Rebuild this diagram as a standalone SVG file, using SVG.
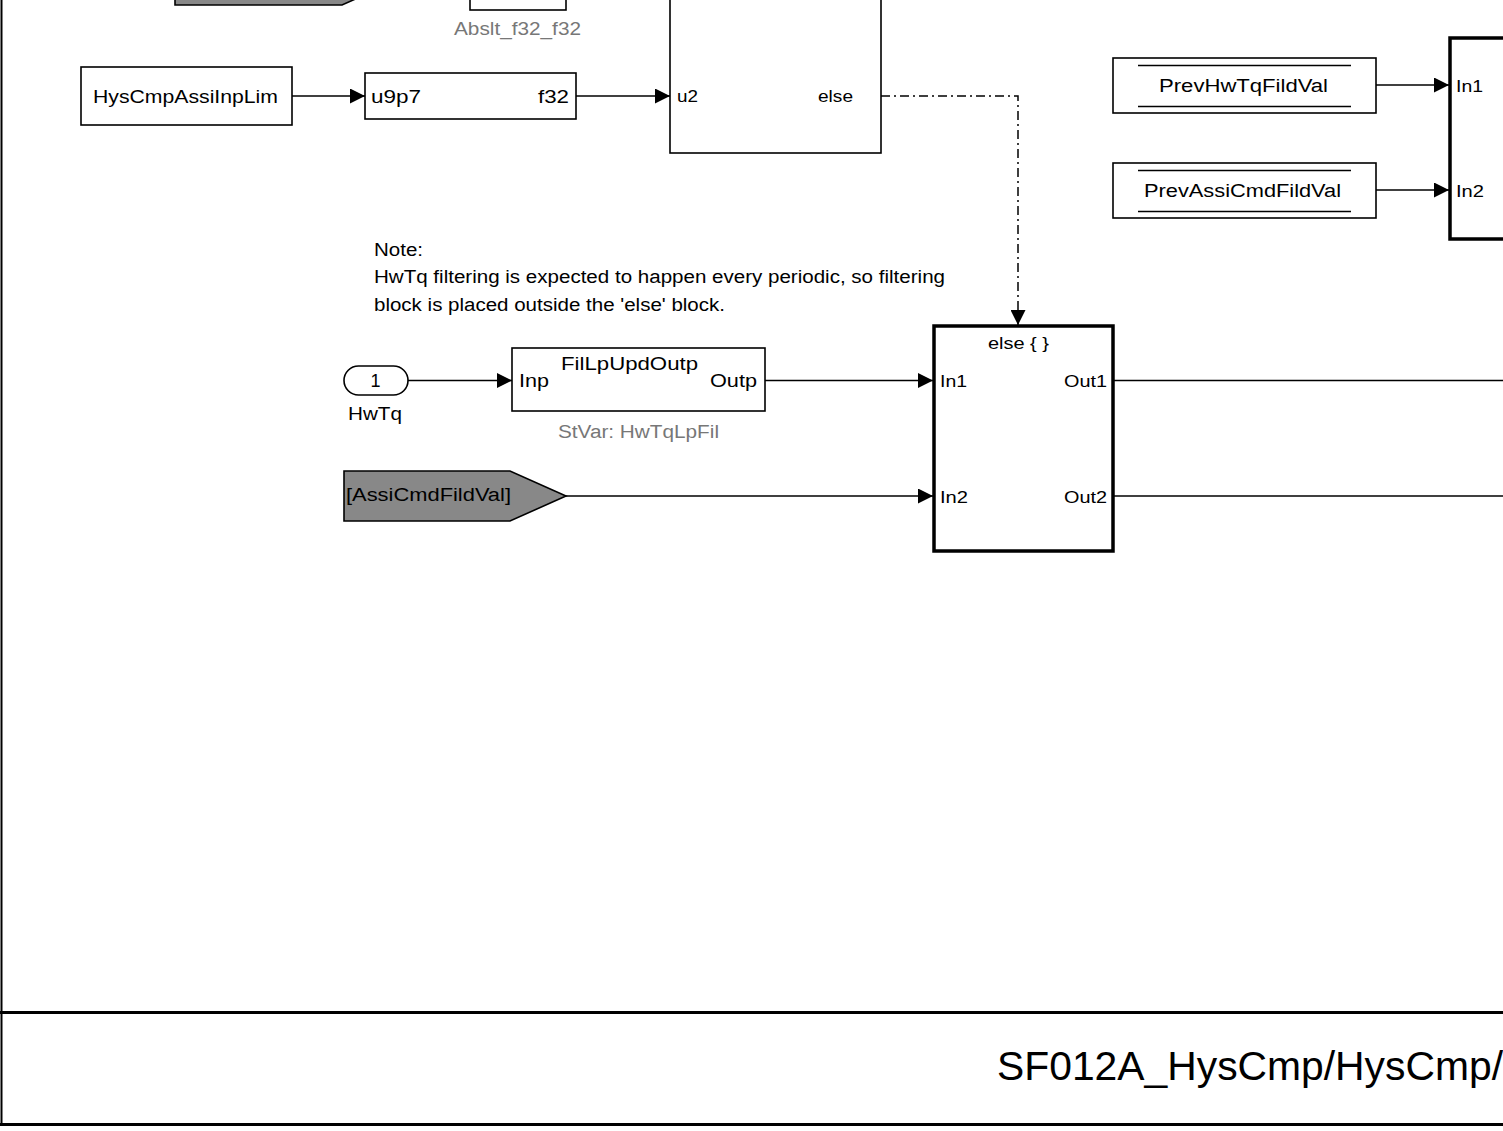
<svg xmlns="http://www.w3.org/2000/svg" width="1503" height="1131" viewBox="0 0 1503 1131">
<style>
text{font-family:"Liberation Sans",Arial,sans-serif;font-size:18px;fill:#000}
.lbl{font-size:17px}
.gray{fill:#777}
.box{fill:#fff;stroke:#000;stroke-width:1.6}
.thick{fill:#fff;stroke:#000;stroke-width:3.5}
.goto{fill:#888;stroke:#000;stroke-width:1.6}
.wire{fill:none;stroke:#000;stroke-width:1.5}
.arr{marker-end:url(#ah)}
.dd{stroke-dasharray:9,4,2,4}
.frame{stroke:#000;stroke-width:3}
</style>
<defs>
<marker id="ah" viewBox="0 0 10 10" refX="10" refY="5" markerWidth="15" markerHeight="15" markerUnits="userSpaceOnUse" orient="auto">
<path d="M0,0 L10,5 L0,10 z" fill="#000"/>
</marker>
</defs>
<rect x="0" y="0" width="1503" height="1131" fill="#fff"/>

<g id="frame">
<line x1="1.5" y1="0" x2="1.5" y2="1126" class="frame" style="stroke-width:2"/>
<line x1="0" y1="1012.5" x2="1503" y2="1012.5" class="frame"/>
<line x1="0" y1="1124.5" x2="1503" y2="1124.5" class="frame"/>
<text x="997" y="1080" style="font-size:40px" textLength="506" lengthAdjust="spacingAndGlyphs">SF012A_HysCmp/HysCmp/</text>
</g>

<g id="goto_top">
<polygon points="175,-45 342,-45 398,-20 342,5 175,5" class="goto"/>
</g>

<g id="abslt">
<rect x="470" y="-40" width="96" height="50" class="box"/>
<text x="454" y="35" class="gray" textLength="127" lengthAdjust="spacingAndGlyphs">Abslt_f32_f32</text>
</g>

<g id="HysCmpAssiInpLim">
<rect x="81" y="67" width="211" height="58" class="box"/>
<text x="93" y="103" textLength="185" lengthAdjust="spacingAndGlyphs">HysCmpAssiInpLim</text>
</g>

<g id="conv">
<rect x="365" y="73" width="211" height="46" class="box"/>
<text x="371" y="103" textLength="50" lengthAdjust="spacingAndGlyphs">u9p7</text>
<text x="538" y="103" textLength="31" lengthAdjust="spacingAndGlyphs">f32</text>
</g>

<g id="ifblock">
<rect x="670" y="-60" width="211" height="213" class="box"/>
<text x="677" y="102" class="lbl" textLength="21" lengthAdjust="spacingAndGlyphs">u2</text>
<text x="818" y="102" class="lbl" textLength="35" lengthAdjust="spacingAndGlyphs">else</text>
</g>

<g id="PrevHwTqFildVal">
<rect x="1113" y="58" width="263" height="55" class="box"/>
<line x1="1138" y1="65.5" x2="1351" y2="65.5" class="wire"/>
<line x1="1138" y1="106.5" x2="1351" y2="106.5" class="wire"/>
<text x="1159" y="92" textLength="169" lengthAdjust="spacingAndGlyphs">PrevHwTqFildVal</text>
</g>

<g id="PrevAssiCmdFildVal">
<rect x="1113" y="163" width="263" height="55" class="box"/>
<line x1="1138" y1="170.5" x2="1351" y2="170.5" class="wire"/>
<line x1="1138" y1="211.5" x2="1351" y2="211.5" class="wire"/>
<text x="1144" y="197" textLength="197" lengthAdjust="spacingAndGlyphs">PrevAssiCmdFildVal</text>
</g>

<g id="rightblock">
<rect x="1450" y="38" width="80" height="201" class="thick"/>
<text x="1456" y="92" class="lbl" textLength="27" lengthAdjust="spacingAndGlyphs">In1</text>
<text x="1456" y="197" class="lbl" textLength="28" lengthAdjust="spacingAndGlyphs">In2</text>
</g>

<g id="note">
<text x="374" y="256" textLength="49" lengthAdjust="spacingAndGlyphs">Note:</text>
<text x="374" y="283" textLength="571" lengthAdjust="spacingAndGlyphs">HwTq filtering is expected to happen every periodic, so filtering</text>
<text x="374" y="311" textLength="351" lengthAdjust="spacingAndGlyphs">block is placed outside the 'else' block.</text>
</g>

<g id="HwTq">
<rect x="344" y="366" width="64" height="29" rx="14.5" ry="14.5" class="box"/>
<text x="375.5" y="387" text-anchor="middle">1</text>
<text x="348" y="420" textLength="54" lengthAdjust="spacingAndGlyphs">HwTq</text>
</g>

<g id="FilLpUpdOutp">
<rect x="512" y="348" width="253" height="63" class="box"/>
<text x="519" y="387" textLength="30" lengthAdjust="spacingAndGlyphs">Inp</text>
<text x="561" y="370" textLength="137" lengthAdjust="spacingAndGlyphs">FilLpUpdOutp</text>
<text x="710" y="387" textLength="47" lengthAdjust="spacingAndGlyphs">Outp</text>
<text x="558" y="438" class="gray" textLength="161" lengthAdjust="spacingAndGlyphs">StVar: HwTqLpFil</text>
</g>

<g id="AssiCmdFildVal">
<polygon points="344,471 510,471 566,496 510,521 344,521" class="goto"/>
<text x="346" y="501" textLength="165" lengthAdjust="spacingAndGlyphs">[AssiCmdFildVal]</text>
</g>

<g id="elseblock">
<rect x="934" y="326" width="179" height="225" class="thick"/>
<text x="988" y="349" class="lbl" textLength="61" lengthAdjust="spacingAndGlyphs">else { }</text>
<text x="940" y="387" class="lbl" textLength="27" lengthAdjust="spacingAndGlyphs">In1</text>
<text x="1064" y="387" class="lbl" textLength="43" lengthAdjust="spacingAndGlyphs">Out1</text>
<text x="940" y="503" class="lbl" textLength="28" lengthAdjust="spacingAndGlyphs">In2</text>
<text x="1064" y="503" class="lbl" textLength="43" lengthAdjust="spacingAndGlyphs">Out2</text>
</g>

<g id="connectors">
<line x1="292" y1="96" x2="365" y2="96" class="wire arr"/>
<line x1="576" y1="96" x2="670" y2="96" class="wire arr"/>
<polyline points="881,96 1018,96 1018,325" class="wire dd arr"/>
<line x1="1376" y1="85" x2="1449" y2="85" class="wire arr"/>
<line x1="1376" y1="190" x2="1449" y2="190" class="wire arr"/>
<line x1="408" y1="380.5" x2="512" y2="380.5" class="wire arr"/>
<line x1="765" y1="380.5" x2="933" y2="380.5" class="wire arr"/>
<line x1="566" y1="496" x2="933" y2="496" class="wire arr"/>
<line x1="1113" y1="380.5" x2="1503" y2="380.5" class="wire"/>
<line x1="1113" y1="496" x2="1503" y2="496" class="wire"/>
</g>
</svg>
